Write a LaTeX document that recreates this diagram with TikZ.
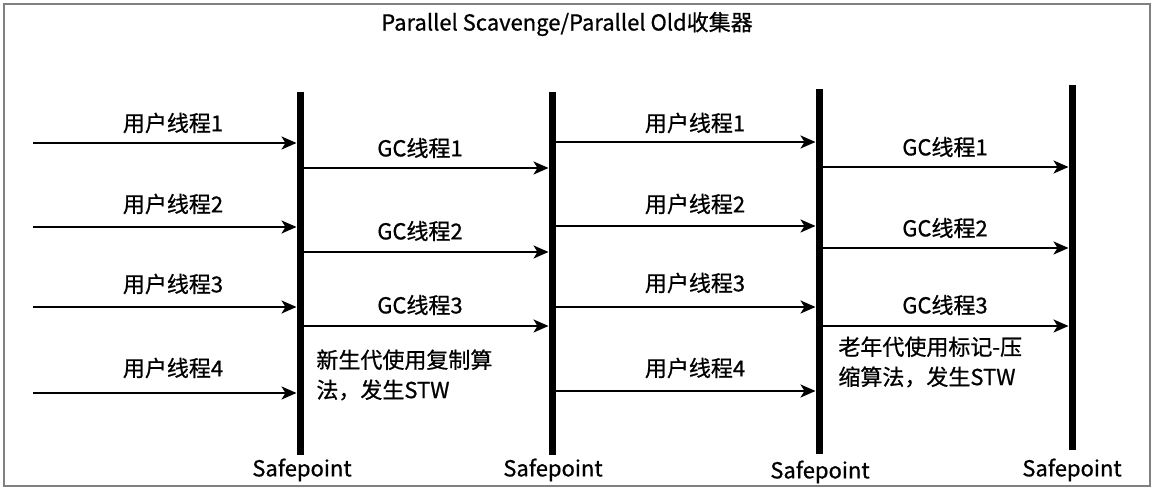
\documentclass[tikz,border=0pt]{standalone}
\usepackage{fontspec}
\setmainfont{Noto Sans CJK SC}[FakeBold=0.8]
\usetikzlibrary{arrows.meta}

\tikzset{
  thread/.style={line width=1.1pt,shorten >=1.75pt,-{Stealth[length=7.5pt,width=6.5pt,inset=2pt]}},
  safebar/.style={line width=3.5pt},
  lbl/.style={font=\fontsize{11}{13}\selectfont},
  note/.style={font=\fontsize{11}{15}\selectfont,anchor=west,align=left,inner sep=0pt},
}

\begin{document}
\begin{tikzpicture}[x=0.5pt,y=-0.5pt]
\useasboundingbox (0,0) rectangle (1154,490);
\draw[gray,line width=0.8pt] (4,4) rectangle (1150,486);
\node[lbl] (title) at (567,24) {Parallel Scavenge/Parallel Old收集器};

\coordinate (sp1t) at (300,92);  \coordinate (sp1b) at (300,455);
\coordinate (sp2t) at (552,92);  \coordinate (sp2b) at (552,455);
\coordinate (sp3t) at (819,89);  \coordinate (sp3b) at (819,454);
\coordinate (sp4t) at (1072,85); \coordinate (sp4b) at (1072,450);

% user threads before the first safepoint
\coordinate (ua1) at (33,143);
\coordinate (ua2) at (33,227);
\coordinate (ua3) at (33,307);
\coordinate (ua4) at (33,393);
\draw[thread] (ua1) -- (ua1 -| sp1t);
\draw[thread] (ua2) -- (ua2 -| sp1t);
\draw[thread] (ua3) -- (ua3 -| sp1t);
\draw[thread] (ua4) -- (ua4 -| sp1t);
\node[lbl] (ual1) at (173,123) {用户线程1};
\node[lbl] (ual2) at (173,204) {用户线程2};
\node[lbl] (ual3) at (173,284) {用户线程3};
\node[lbl] (ual4) at (173,368) {用户线程4};

% young gc
\coordinate (ga1) at (300,168);
\coordinate (ga2) at (300,252);
\coordinate (ga3) at (300,326);
\draw[thread] (ga1) -- (ga1 -| sp2t);
\draw[thread] (ga2) -- (ga2 -| sp2t);
\draw[thread] (ga3) -- (ga3 -| sp2t);
\node[lbl] (gal1) at (420,148) {GC线程1};
\node[lbl] (gal2) at (420,231) {GC线程2};
\node[lbl] (gal3) at (420,305) {GC线程3};
\node[note] (young) at (316,375) {新生代使用复制算\\法，发生STW};

% user threads again
\coordinate (ub1) at (552,142);
\coordinate (ub2) at (552,226);
\coordinate (ub3) at (552,307);
\coordinate (ub4) at (552,391);
\draw[thread] (ub1) -- (ub1 -| sp3t);
\draw[thread] (ub2) -- (ub2 -| sp3t);
\draw[thread] (ub3) -- (ub3 -| sp3t);
\draw[thread] (ub4) -- (ub4 -| sp3t);
\node[lbl] (ubl1) at (695,123) {用户线程1};
\node[lbl] (ubl2) at (695,204) {用户线程2};
\node[lbl] (ubl3) at (695,283) {用户线程3};
\node[lbl] (ubl4) at (695,368) {用户线程4};

% old gc
\coordinate (gb1) at (819,167);
\coordinate (gb2) at (819,248);
\coordinate (gb3) at (819,326);
\draw[thread] (gb1) -- (gb1 -| sp4t);
\draw[thread] (gb2) -- (gb2 -| sp4t);
\draw[thread] (gb3) -- (gb3 -| sp4t);
\node[lbl] (gbl1) at (945,147) {GC线程1};
\node[lbl] (gbl2) at (945,228) {GC线程2};
\node[lbl] (gbl3) at (945,305) {GC线程3};
\node[note] (old) at (838,362) {老年代使用标记-压\\缩算法，发生STW};

% safepoints
\draw[safebar] (sp1t) -- (sp1b);
\draw[safebar] (sp2t) -- (sp2b);
\draw[safebar] (sp3t) -- (sp3b);
\draw[safebar] (sp4t) -- (sp4b);
\node[lbl] (sp1) at (302,470) {Safepoint};
\node[lbl] (sp2) at (553,470) {Safepoint};
\node[lbl] (sp3) at (820,472) {Safepoint};
\node[lbl] (sp4) at (1072,470) {Safepoint};
\end{tikzpicture}
\end{document}
